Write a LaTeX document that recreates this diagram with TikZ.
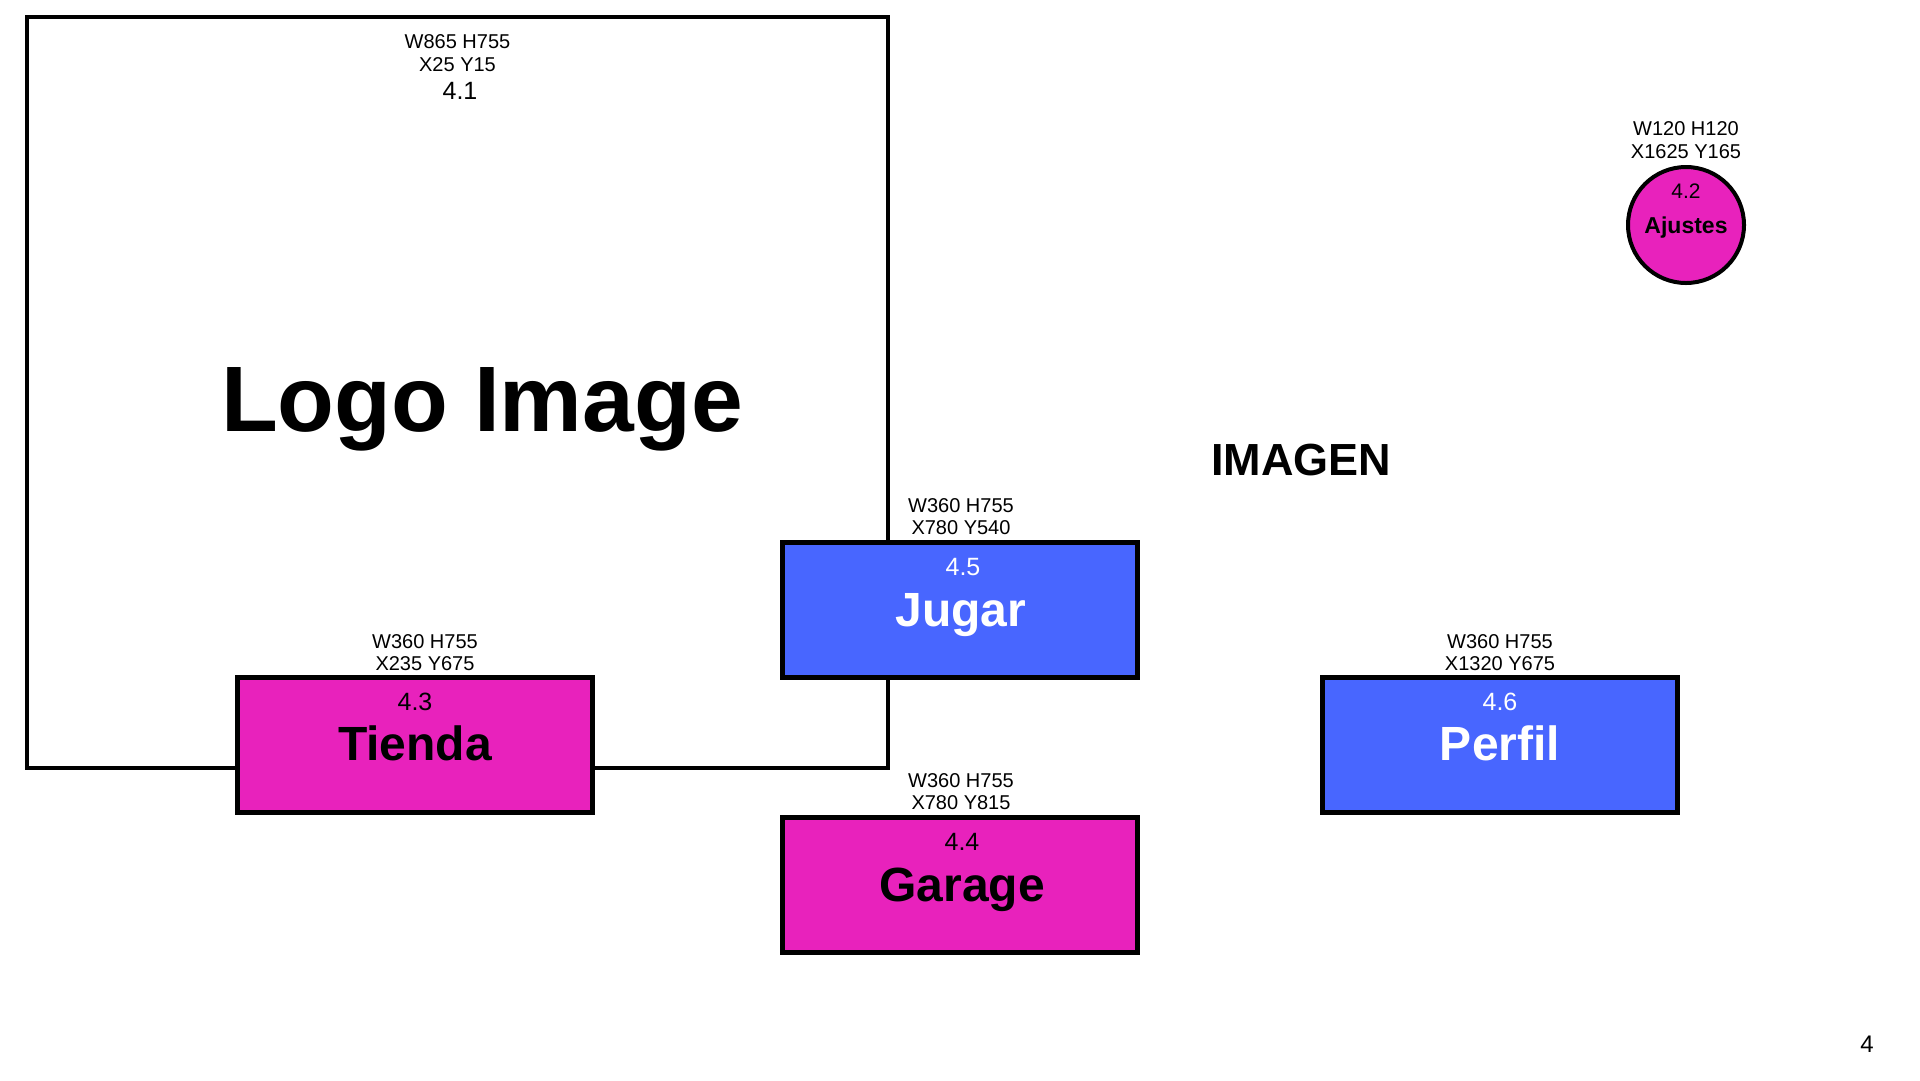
\documentclass[tikz,border=0pt]{standalone}
\usepackage{fontspec}
\setmainfont{Liberation Sans}
\definecolor{blu}{HTML}{4866FF}
\definecolor{mag}{HTML}{E822BC}
\begin{document}
\begin{tikzpicture}[x=1pt,y=-1pt,
  lbl/.style={font=\fontsize{20}{24}\selectfont, anchor=base, inner sep=0pt},
  num/.style={font=\fontsize{25}{30}\selectfont, anchor=base, inner sep=0pt},
  ttl/.style={font=\bfseries\fontsize{48}{56}\selectfont, anchor=base, inner sep=0pt},
  card/.style={draw=black, line width=5pt, minimum width=355pt, minimum height=135pt, inner sep=0pt, outer sep=0pt}]
\useasboundingbox (0,0) rectangle (1920,1080);
\fill[white] (0,0) rectangle (1920,1080);

% big logo box
\node[draw=black, line width=4pt, minimum width=861pt, minimum height=751pt, inner sep=0pt, outer sep=0pt] (logo) at (457.5,392.5) {};
\node[lbl] (logoL1) at (457.5,48) {W865 H755};
\node[lbl] (logoL2) at (457.5,71) {X25 Y15};
\node[num] (logoN) at (460,99) {4.1};
\node[font=\bfseries\fontsize{93}{100}\selectfont, anchor=base, inner sep=0pt] (logoT) at (482,431) {Logo Image};

% IMAGEN
\node[font=\bfseries\fontsize{45}{52}\selectfont, anchor=base, inner sep=0pt] (imagen) at (1301,475) {IMAGEN};

% Ajustes circle
\node[circle, draw=black, fill=mag, line width=4pt, minimum size=116pt, inner sep=0pt, outer sep=0pt] (ajustes) at (1686,225) {};
\node[lbl] (ajL1) at (1686,135) {W120 H120};
\node[lbl] (ajL2) at (1686,158) {X1625 Y165};
\node[lbl, font=\fontsize{21}{25}\selectfont] (ajN) at (1686,198) {4.2};
\node[anchor=base, inner sep=0pt, font=\bfseries\fontsize{23}{27}\selectfont] (ajT) at (1686,233) {Ajustes};

% Tienda
\node[card, fill=mag] (tienda) at (415,745) {};
\node[lbl] (tiL1) at (425,648) {W360 H755};
\node[lbl] (tiL2) at (425,670) {X235 Y675};
\node[num] (tiN) at (415,710) {4.3};
\node[ttl] (tiT) at (415,760) {Tienda};

% Jugar
\node[card, fill=blu] (jugar) at (960,610) {};
\node[lbl] (juL1) at (961,512) {W360 H755};
\node[lbl] (juL2) at (961,534) {X780 Y540};
\node[num, text=white] (juN) at (963,575) {4.5};
\node[ttl, text=white] (juT) at (961,626) {Jugar};

% Garage
\node[card, fill=mag] (garage) at (960,885) {};
\node[lbl] (gaL1) at (961,787) {W360 H755};
\node[lbl] (gaL2) at (961,809) {X780 Y815};
\node[num] (gaN) at (962,850) {4.4};
\node[ttl] (gaT) at (962,901) {Garage};

% Perfil
\node[card, fill=blu] (perfil) at (1500,745) {};
\node[lbl] (peL1) at (1500,648) {W360 H755};
\node[lbl] (peL2) at (1500,670) {X1320 Y675};
\node[num, text=white] (peN) at (1500,710) {4.6};
\node[ttl, text=white] (peT) at (1500,760) {Perfil};

% page number
\node[num, font=\fontsize{24}{28}\selectfont] (page) at (1867,1052) {4};
\end{tikzpicture}
\end{document}
